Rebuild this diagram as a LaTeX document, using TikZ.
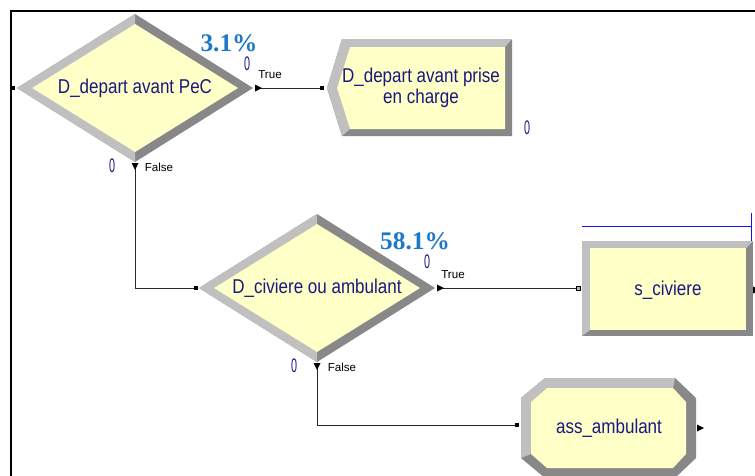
\documentclass[tikz,border=0pt]{standalone}
\usepackage{fontspec}
\setmainfont{Liberation Sans}
\newfontfamily\serifbf{Liberation Serif}
\usetikzlibrary{calc}
\definecolor{fillY}{RGB}{255,255,200}
\definecolor{bevL}{RGB}{192,192,192}
\definecolor{bevD}{RGB}{136,136,136}
\definecolor{navy}{RGB}{25,25,128}
\definecolor{pct}{RGB}{30,120,200}
\definecolor{cline}{RGB}{40,40,40}
\definecolor{bline}{RGB}{20,20,230}
\newcommand\hsq[1]{\scalebox{0.85}[1]{#1}}
\newcommand\zro{\scalebox{0.55}[1]{0}}
\tikzset{
  modtext/.style={text=navy, font=\fontsize{15}{15}\selectfont, inner sep=0pt, align=center},
  pcttext/.style={text=pct, font=\serifbf\bfseries\fontsize{19}{19}\selectfont, inner sep=0pt},
  cnt/.style={text=navy, font=\fontsize{14.7}{15}\selectfont, inner sep=0pt},
  branch/.style={text=black, font=\fontsize{8.7}{9}\selectfont, inner sep=0pt},
  conn/.style={draw=cline, line width=0.75pt},
  port/.style={fill=black},
}
\newcommand\bevdiamond[2]{%
  \fill[bevD] ({#1-118},#2) -- (#1,{#2-74}) -- ({#1+118},#2) -- (#1,{#2+74}) -- cycle;
  \fill[bevL] ({#1-118},#2) -- (#1,{#2-74}) -- (#1,{#2-64}) -- ({#1-103},#2) -- (#1,{#2+64}) -- (#1,{#2+74}) -- cycle;
  \fill[fillY] ({#1-103},#2) -- (#1,{#2-64}) -- ({#1+103},#2) -- (#1,{#2+64}) -- cycle;}
\newcommand\tipR[2]{\fill[black] (#1,{#2-3.5}) -- ({#1+7},#2) -- (#1,{#2+3.5}) -- cycle;}
\newcommand\tipD[2]{\fill[black] ({#1-3.5},#2) -- (#1,{#2+7}) -- ({#1+3.5},#2) -- cycle;}
\begin{document}
\begin{tikzpicture}[x=0.75pt,y=-0.75pt]
\useasboundingbox (0,0) rectangle (755,475);
\begin{scope}
\clip (0,0) rectangle (755,475);
% frame
\draw[line width=1.5pt] (11,476) -- (11,11) -- (756,11);

% decision 1
\bevdiamond{135}{88}
\node[modtext] (d1) at (135,88) {\hsq{D\_depart avant PeC}};
\coordinate (d1in) at (17,88);
\coordinate (d1R) at (255,88);
\coordinate (d1B) at (135,163);
\fill[port] (11,86) rectangle (15,90);

% dispose-like node (pentagon)
\fill[bevD] (327,88) -- (342,39) -- (512,39) -- (512,136) -- (342,136) -- cycle;
\fill[bevL] (342,136) -- (327,88) -- (342,39) -- (512,39) -- (505,47) -- (350,47) -- (337,88) -- (350,129) -- cycle;
\fill[fillY] (337,88) -- (350,47) -- (505,47) -- (505,129) -- (350,129) -- cycle;
\node[modtext] (n2) at (421,88) {\hsq{D\_depart avant prise}\\[1pt]\hsq{en charge}};
\coordinate (n2in) at (322,88);

% decision 2
\bevdiamond{317}{288}
\node[modtext] (d2) at (317,288) {\hsq{D\_civiere ou ambulant}};
\coordinate (d2in) at (196,288);
\coordinate (d2R) at (437,288);
\coordinate (d2B) at (317,363);

% s_civiere
\fill[bevD] (582,241) rectangle (753,336);
\fill[bevL] (582,336) -- (582,241) -- (753,241) -- (746,248) -- (590,248) -- (590,330) -- cycle;
\fill[fillY] (590,248) rectangle (746,330);
\node[modtext] (sc) at (668,290) {\hsq{s\_civiere}};
\coordinate (scin) at (578,288);
\draw[bline, line width=0.75pt] (582,226) -- (751,226);
\draw[bline, line width=0.75pt] (751,213) -- (751,241);

% ass_ambulant
\fill[bevD] (521,398) -- (545,378) -- (675,378) -- (696,398) -- (696,458) -- (675,478) -- (545,478) -- (521,458) -- cycle;
\fill[bevL] (521,458) -- (521,398) -- (545,378) -- (675,378) -- (673,388) -- (547,388) -- (531,402) -- (531,454) -- cycle;
\fill[fillY] (531,402) -- (547,388) -- (673,388) -- (686,402) -- (686,454) -- (673,468) -- (547,468) -- (531,454) -- cycle;
\node[modtext] (aa) at (609,428) {\hsq{ass\_ambulant}};
\coordinate (aain) at (517,425);

% connectors
\draw[conn] (d1R) -- (n2in);
\draw[conn] (d1B) |- (d2in);
\draw[conn] (d2R) -- (scin);
\draw[conn] (d2B) |- (aain);
\tipR{255}{88}
\tipD{135}{163}
\tipR{437}{288}
\tipD{317}{363}
\tipR{697}{428}
\tipR{753}{290}
\fill[port] (320,86) rectangle (324,90);
\fill[port] (194,286) rectangle (198,290);
\fill[port] (515,423) rectangle (519,427);
\filldraw[fill=gray!60, draw=black, line width=0.4pt] (576,286.5) rectangle (580,290.5);

% labels
\node[pcttext, anchor=base] (p1) at (229,51) {3.1\%};
\node[cnt] (c1) at (247,64) {\zro};
\node[branch] (t1) at (270,75) {True};
\node[cnt] (c2) at (112,166) {\zro};
\node[branch] (f1) at (159,167) {False};
\node[cnt] (c3) at (527,128) {\zro};
\node[pcttext, anchor=base] (p2) at (415,249) {58.1\%};
\node[cnt] (c4) at (427,262) {\zro};
\node[branch] (t2) at (453,275) {True};
\node[cnt] (c5) at (294,366) {\zro};
\node[branch] (f2) at (342,367) {False};
\end{scope}
\end{tikzpicture}
\end{document}
